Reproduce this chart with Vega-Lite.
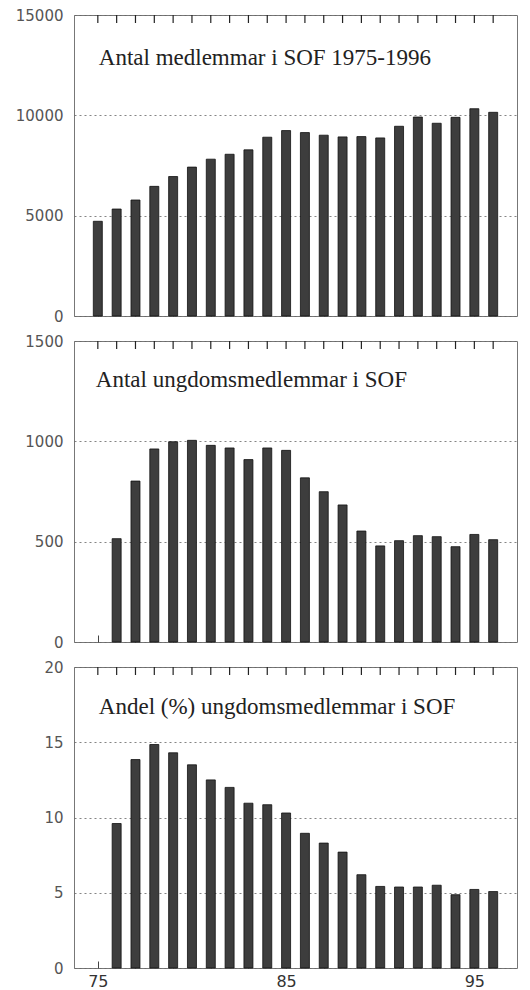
{
  "$schema": "https://vega.github.io/schema/vega-lite/v6.json",
  "padding": {"left": 14, "top": 7, "right": 10, "bottom": 0},
  "background": "white",
  "config": {
    "view": {"stroke": "#777", "strokeWidth": 1},
    "axis": {
      "labelFont": "DejaVu Sans",
      "labelFontSize": 15,
      "labelColor": "#555",
      "tickColor": "#444",
      "tickWidth": 1,
      "domain": false,
      "title": null,
      "format": "d",
      "labelOverlap": false
    }
  },
  "spacing": 25,
  "bounds": "flush",
  "data": {
    "values": [
      {"year": 1975, "members": 4720, "youth": null, "share": null},
      {"year": 1976, "members": 5330, "youth": 515, "share": 9.6},
      {"year": 1977, "members": 5780, "youth": 802, "share": 13.85},
      {"year": 1978, "members": 6460, "youth": 962, "share": 14.85},
      {"year": 1979, "members": 6950, "youth": 998, "share": 14.3},
      {"year": 1980, "members": 7420, "youth": 1005, "share": 13.5},
      {"year": 1981, "members": 7815, "youth": 980, "share": 12.5},
      {"year": 1982, "members": 8060, "youth": 967, "share": 12.0},
      {"year": 1983, "members": 8280, "youth": 909, "share": 10.95},
      {"year": 1984, "members": 8910, "youth": 967, "share": 10.85},
      {"year": 1985, "members": 9240, "youth": 955, "share": 10.3},
      {"year": 1986, "members": 9140, "youth": 818, "share": 8.95},
      {"year": 1987, "members": 9010, "youth": 749, "share": 8.3},
      {"year": 1988, "members": 8925, "youth": 683, "share": 7.7},
      {"year": 1989, "members": 8940, "youth": 553, "share": 6.2},
      {"year": 1990, "members": 8875, "youth": 479, "share": 5.42},
      {"year": 1991, "members": 9455, "youth": 505, "share": 5.38},
      {"year": 1992, "members": 9915, "youth": 530, "share": 5.38},
      {"year": 1993, "members": 9605, "youth": 525, "share": 5.5},
      {"year": 1994, "members": 9900, "youth": 475, "share": 4.87},
      {"year": 1995, "members": 10330, "youth": 536, "share": 5.22},
      {"year": 1996, "members": 10150, "youth": 510, "share": 5.08}
    ]
  },
  "vconcat": [
    {
      "width": 443,
      "height": 301,
      "layer": [
        {
          "mark": {"type": "bar", "size": 9, "fill": "#3d3d3d", "stroke": "#111", "strokeWidth": 0.8},
          "encoding": {
            "x": {"field": "year", "type": "quantitative",
                  "scale": {"domain": [1974, 1997], "nice": false, "zero": false},
                  "axis": {"orient": "bottom", "values": [1975,1976,1977,1978,1979,1980,1981,1982,1983,1984,1985,1986,1987,1988,1989,1990,1991,1992,1993,1994,1995,1996], "tickSize": -7, "labels": false, "grid": false}},
            "y": {"field": "members", "type": "quantitative",
                  "scale": {"domain": [0, 15000], "nice": false},
                  "axis": {"values": [0, 5000, 10000, 15000], "ticks": false, "labelPadding": 11, "grid": true, "gridDash": [2, 3], "gridColor": "#666", "gridWidth": 0.8}}
          }
        },
        {
          "mark": {"type": "rule", "stroke": "#222", "strokeWidth": 1.2, "clip": false},
          "encoding": {
            "x": {"field": "year", "type": "quantitative"},
            "y": {"datum": 15000, "type": "quantitative"},
            "y2": {"datum": 14600}
          }
        },
        {
          "transform": [{"filter": "datum.year == 1975"}],
          "mark": {"type": "text", "font": "Liberation Serif", "fontSize": 23, "fontWeight": "normal", "fill": "#222", "align": "left", "baseline": "alphabetic", "dx": 1},
          "encoding": {
            "x": {"field": "year", "type": "quantitative"},
            "y": {"datum": 12508, "type": "quantitative"},
            "text": {"value": "Antal medlemmar i SOF 1975-1996"}
          }
        }
      ]
    },
    {
      "width": 443,
      "height": 301,
      "layer": [
        {
          "transform": [{"filter": "isValid(datum.youth)"}],
          "mark": {"type": "bar", "size": 9, "fill": "#3d3d3d", "stroke": "#111", "strokeWidth": 0.8},
          "encoding": {
            "x": {"field": "year", "type": "quantitative",
                  "scale": {"domain": [1974, 1997], "nice": false, "zero": false},
                  "axis": {"orient": "bottom", "values": [1975,1976,1977,1978,1979,1980,1981,1982,1983,1984,1985,1986,1987,1988,1989,1990,1991,1992,1993,1994,1995,1996], "tickSize": -7, "labels": false, "grid": false}},
            "y": {"field": "youth", "type": "quantitative",
                  "scale": {"domain": [0, 1500], "nice": false},
                  "axis": {"values": [0, 500, 1000, 1500], "ticks": false, "labelPadding": 11, "grid": true, "gridDash": [2, 3], "gridColor": "#666", "gridWidth": 0.8}}
          }
        },
        {
          "mark": {"type": "rule", "stroke": "#222", "strokeWidth": 1.2, "clip": false},
          "encoding": {
            "x": {"field": "year", "type": "quantitative"},
            "y": {"datum": 1500, "type": "quantitative"},
            "y2": {"datum": 1460}
          }
        },
        {
          "transform": [{"filter": "datum.year == 1975"}],
          "mark": {"type": "text", "font": "Liberation Serif", "fontSize": 23, "fontWeight": "normal", "fill": "#222", "align": "left", "baseline": "alphabetic", "dx": -2},
          "encoding": {
            "x": {"field": "year", "type": "quantitative"},
            "y": {"datum": 1272, "type": "quantitative"},
            "text": {"value": "Antal ungdomsmedlemmar i SOF"}
          }
        }
      ]
    },
    {
      "width": 443,
      "height": 301,
      "layer": [
        {
          "transform": [{"filter": "isValid(datum.share)"}],
          "mark": {"type": "bar", "size": 9, "fill": "#3d3d3d", "stroke": "#111", "strokeWidth": 0.8},
          "encoding": {
            "x": {"field": "year", "type": "quantitative",
                  "scale": {"domain": [1974, 1997], "nice": false, "zero": false},
                  "axis": {"orient": "bottom", "values": [1975,1976,1977,1978,1979,1980,1981,1982,1983,1984,1985,1986,1987,1988,1989,1990,1991,1992,1993,1994,1995,1996], "tickSize": -7, "labelPadding": 12, "labelFontSize": 16, "labelColor": "#333", "labelOverlap": false, "labelExpr": "datum.value % 5 === 0 ? format(datum.value % 100, 'd') : ''", "grid": false}},
            "y": {"field": "share", "type": "quantitative",
                  "scale": {"domain": [0, 20], "nice": false},
                  "axis": {"values": [0, 5, 10, 15, 20], "ticks": false, "labelPadding": 11, "grid": true, "gridDash": [2, 3], "gridColor": "#666", "gridWidth": 0.8}}
          }
        },
        {
          "mark": {"type": "rule", "stroke": "#222", "strokeWidth": 1.2, "clip": false},
          "encoding": {
            "x": {"field": "year", "type": "quantitative"},
            "y": {"datum": 20, "type": "quantitative"},
            "y2": {"datum": 19.47}
          }
        },
        {
          "transform": [{"filter": "datum.year == 1975"}],
          "mark": {"type": "text", "font": "Liberation Serif", "fontSize": 23, "fontWeight": "normal", "fill": "#222", "align": "left", "baseline": "alphabetic", "dx": 1},
          "encoding": {
            "x": {"field": "year", "type": "quantitative"},
            "y": {"datum": 16.88, "type": "quantitative"},
            "text": {"value": "Andel (%) ungdomsmedlemmar i SOF"}
          }
        }
      ]
    }
  ]
}
